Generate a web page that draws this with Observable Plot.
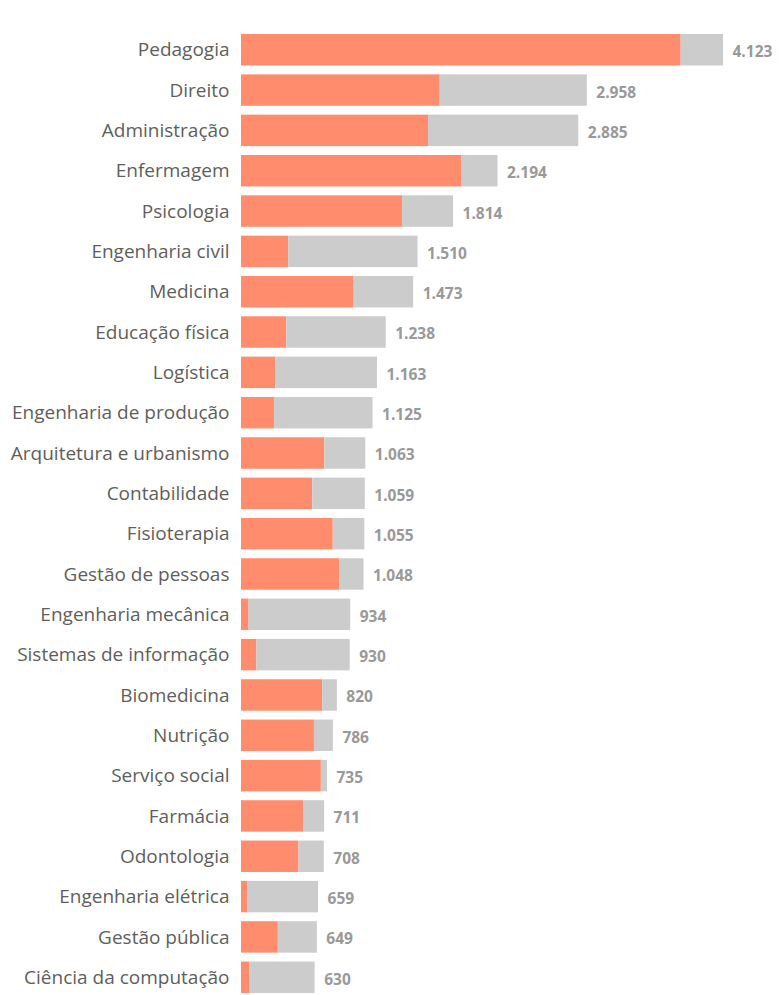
<!DOCTYPE html>
<html>
<head>
<meta charset="utf-8">
<script src="https://cdn.jsdelivr.net/npm/d3@7"></script>
<script src="https://cdn.jsdelivr.net/npm/@observablehq/plot@0.6"></script>
<style>
  html, body { margin: 0; padding: 0; background: #fff; }
</style>
</head>
<body>
<div id="chart"></div>
<script>
const categories = [
  "Pedagogia", "Direito", "Administração", "Enfermagem", "Psicologia",
  "Engenharia civil", "Medicina", "Educação física", "Logística",
  "Engenharia de produção", "Arquitetura e urbanismo", "Contabilidade",
  "Fisioterapia", "Gestão de pessoas", "Engenharia mecânica",
  "Sistemas de informação", "Biomedicina", "Nutrição", "Serviço social",
  "Farmácia", "Odontologia", "Engenharia elétrica", "Gestão pública",
  "Ciência da computação"
];
const totals = [4123, 2958, 2885, 2194, 1814, 1510, 1473, 1238, 1163, 1125, 1063, 1059,
                1055, 1048, 934, 930, 820, 786, 735, 711, 708, 659, 649, 630];
const highlighted = [3761, 1700, 1600, 1882, 1377, 405, 958, 388, 294, 282, 713, 610,
                     785, 839, 65, 132, 694, 624, 683, 533, 492, 54, 315, 70];
const seriesNames = ["destaque", "restante"];
const seriesColors = ["#FF8D6D", "#CCCCCC"];

const rows = [];
categories.forEach((c, i) => {
  rows.push({category: c, series: seriesNames[0], value: highlighted[i]});
  rows.push({category: c, series: seriesNames[1], value: totals[i] - highlighted[i]});
});
const totalRows = categories.map((c, i) => ({category: c, total: totals[i]}));

const ptbr = d3.formatLocale({decimal: ",", thousands: ".", grouping: [3], currency: ["R$", ""]});
const fmt = ptbr.format(",d");

const chart = Plot.plot({
  width: 779,
  height: 995,
  marginLeft: 241,
  marginRight: 56,
  marginTop: 32,
  marginBottom: 0,
  style: {fontFamily: "'Open Sans', 'Noto Sans', sans-serif", color: "#605E5C", background: "#fff"},
  x: {domain: [0, 4123], axis: null},
  y: {domain: categories, paddingInner: 0.22, paddingOuter: 0.05, round: false, label: null},
  color: {domain: seriesNames, range: seriesColors},
  marks: [
    Plot.barX(rows, Plot.stackX({x: "value", y: "category", fill: "series", order: null})),
    Plot.text(totalRows, {
      x: "total", y: "category", text: d => fmt(d.total),
      textAnchor: "start", dx: 9, dy: 2,
      fontSize: 15.5, fontWeight: "bold", fill: "#999999"
    }),
    Plot.axisY({tickSize: 0, tickPadding: 12, fontSize: 19, label: null, fill: "#605E5C"})
  ]
});
document.getElementById("chart").appendChild(chart);
</script>
</body>
</html>
